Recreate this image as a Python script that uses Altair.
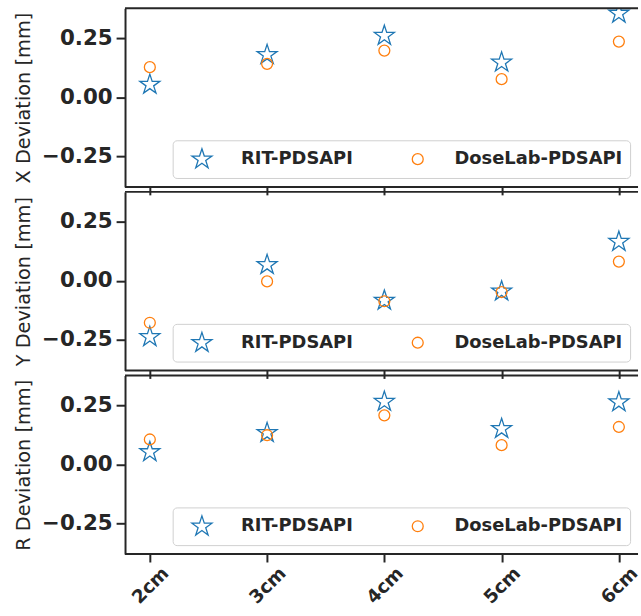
import altair as alt
import pandas as pd

categories = ["2cm", "3cm", "4cm", "5cm", "6cm"]
series = ["RIT-PDSAPI", "DoseLab-PDSAPI"]

x_rit = [0.053, 0.179, 0.260, 0.147, 0.354]
x_dose = [0.127, 0.141, 0.197, 0.076, 0.235]
y_rit = [-0.238, 0.067, -0.084, -0.045, 0.165]
y_dose = [-0.178, -0.003, -0.087, -0.048, 0.081]
r_rit = [0.052, 0.133, 0.265, 0.150, 0.263]
r_dose = [0.105, 0.123, 0.207, 0.081, 0.158]

titles = ["X Deviation [mm]", "Y Deviation [mm]", "R Deviation [mm]"]
y_ticks = [-0.25, 0.0, 0.25]

FONT = "DejaVu Sans"
INK = "#262626"
STAR = ("M0,-1L0.2245,-0.309L0.9511,-0.309L0.3633,0.118L0.5878,0.809L0,0.382"
        "L-0.5878,0.809L-0.3633,0.118L-0.9511,-0.309L-0.2245,-0.309Z")

W, H = 517, 180


def panel(rit, dose, title, show_labels):
    df = pd.DataFrame({
        "pos": categories + categories,
        "value": rit + dose,
        "series": [series[0]] * len(categories) + [series[1]] * len(categories),
    })
    legend = alt.Legend(
        orient="none", legendX=48, legendY=133, direction="horizontal", title=None,
        padding=7.5, symbolOffset=10.5, labelOffset=28, columnPadding=45,
        fillColor="white", strokeColor="#d0d0d0", cornerRadius=4,
        labelFont=FONT, labelFontSize=18, labelFontWeight="bold", labelColor=INK,
        labelLimit=400, symbolStrokeWidth=1.3,
    )
    x_axis = alt.Axis(
        title=None, labels=show_labels, labelAngle=-45, labelAlign="center",
        labelBaseline="middle", labelPadding=23, labelFont=FONT, labelFontSize=18.5,
        labelFontWeight="bold", labelColor=INK, tickSize=8, tickWidth=2,
        tickColor=INK, domain=False, grid=False,
    )
    y_axis = alt.Axis(
        title=title, values=y_ticks, format=".2f", labelFont=FONT, labelFontSize=21.5,
        labelFontWeight="bold", labelColor=INK, labelPadding=4, tickSize=9, tickWidth=2,
        tickColor=INK, domainColor=INK, domainWidth=2, grid=False,
        titleFont=FONT, titleFontSize=19.5, titleFontWeight="normal", titleColor=INK,
        titlePadding=8,
    )
    pts = alt.Chart(df).mark_point(filled=False, clip=True, strokeWidth=1.3, opacity=1).encode(
        x=alt.X("pos:N", sort=categories,
                scale=alt.Scale(domain=categories, range=[25, 497.7], padding=0), axis=x_axis),
        y=alt.Y("value:Q", scale=alt.Scale(domain=[-0.38, 0.376], nice=False, zero=False),
                axis=y_axis),
        shape=alt.Shape("series:N", scale=alt.Scale(domain=series, range=[STAR, "circle"]),
                        legend=legend),
        color=alt.Color("series:N", scale=alt.Scale(domain=series, range=["#1f77b4", "#ff7f0e"]),
                        legend=legend),
        size=alt.Size("series:N", scale=alt.Scale(domain=series, range=[450, 121]),
                      legend=legend),
    )
    frame = pd.DataFrame({"edge": [0, H]})
    borders = alt.Chart(frame).mark_rule(color=INK, strokeWidth=2).encode(
        x=alt.value(0), x2=alt.value(W),
        y=alt.Y("edge:Q", scale=None),
    )
    return alt.layer(pts, borders).properties(width=W, height=H)


p1 = panel(x_rit, x_dose, titles[0], False)
p2 = panel(y_rit, y_dose, titles[1], False)
p3 = panel(r_rit, r_dose, titles[2], True)

chart = alt.vconcat(p1, p2, p3, spacing=5, bounds="flush").resolve_scale(
    color="independent", shape="independent", size="independent"
).configure_view(stroke=None).properties(
    padding={"left": 13, "top": 5, "right": 0, "bottom": 0},
    background="white",
)

chart.save("out.html", embed_options={"renderer": "svg", "actions": False})
